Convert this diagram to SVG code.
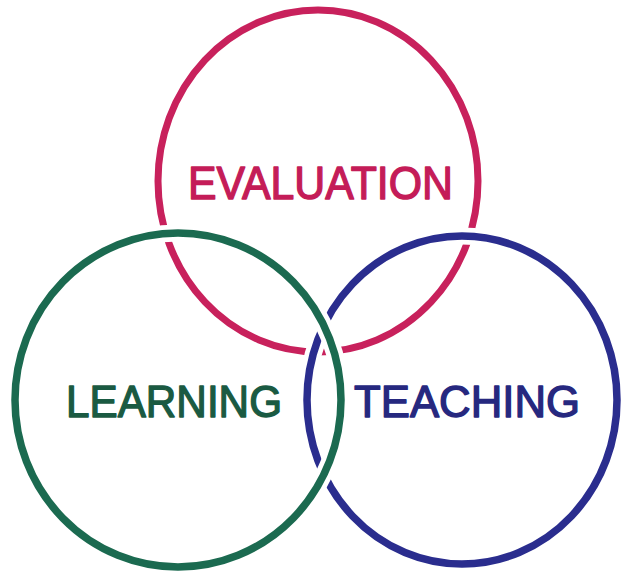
<svg xmlns="http://www.w3.org/2000/svg" width="626" height="579" viewBox="0 0 626 579">
  <style>
    .ring { fill: none; }
    .halo { fill: none; stroke: #ffffff; stroke-width: 17; }
    .label { font-family: "Liberation Sans", Arial, Helvetica, sans-serif; stroke-width: 1.4; stroke-linejoin: round; }
    #evaluation .ring { stroke: #c8215c; stroke-width: 7; }
    #teaching .ring { stroke: #2a2d8e; stroke-width: 7.5; }
    #learning .ring { stroke: #1b6a50; stroke-width: 7.5; }
  </style>
  <rect width="626" height="579" fill="#ffffff"/>
  <g id="evaluation">
    <ellipse class="ring" cx="318" cy="181" rx="160" ry="171"/>
    <text class="label" x="188" y="199" font-size="46" textLength="265" lengthAdjust="spacingAndGlyphs" fill="#c41c58" stroke="#c41c58">EVALUATION</text>
  </g>
  <g id="teaching">
    <ellipse class="halo" cx="462" cy="400" rx="155" ry="164"/>
    <ellipse class="ring" cx="462" cy="400" rx="155" ry="164"/>
    <text class="label" x="354" y="417" font-size="45" textLength="226" lengthAdjust="spacingAndGlyphs" fill="#26287f" stroke="#26287f">TEACHING</text>
  </g>
  <g id="learning">
    <ellipse class="halo" cx="178" cy="400" rx="163" ry="167"/>
    <ellipse class="ring" cx="178" cy="400" rx="163" ry="167"/>
    <text class="label" x="66" y="417" font-size="45" textLength="216" lengthAdjust="spacingAndGlyphs" fill="#1a5a42" stroke="#1a5a42">LEARNING</text>
  </g>
  <g id="connectors"/>
</svg>
